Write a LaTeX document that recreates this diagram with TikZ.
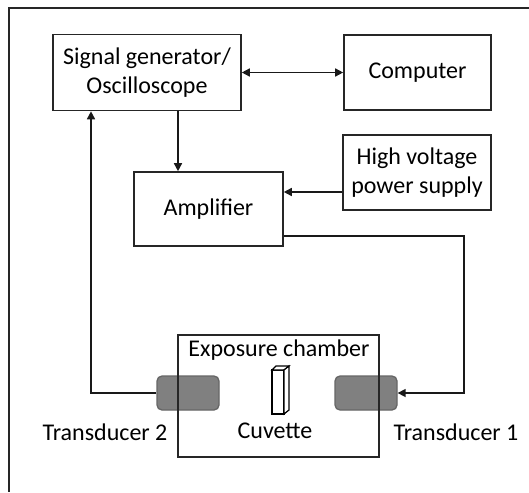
\documentclass[tikz,border=0pt]{standalone}
\usepackage{fontspec}
\setmainfont{Carlito}
\usetikzlibrary{arrows.meta}
\begin{document}
\begin{tikzpicture}[x=1pt,y=-1pt,
  box/.style={draw=black!85, line width=1.6pt, minimum width=#1, inner sep=0pt, align=center, font=\fontsize{24}{29.5}\selectfont},
  txt/.style={inner sep=0pt, font=\fontsize{24}{29}\selectfont},
  trans/.style={draw=black!60, fill=black!50, line width=1.3pt, rounded corners=5pt, minimum width=62pt, minimum height=34pt, inner sep=0pt},
  conn/.style={line width=1.5pt, draw=black!90},
  arr/.style={conn, -{Triangle[length=8pt,width=8pt]}},
  darr/.style={conn, {Triangle[length=8pt,width=8pt]}-{Triangle[length=8pt,width=8pt]}}]
\useasboundingbox (0,0) rectangle (529,492);
\fill[white] (0,0) rectangle (529,492);
% outer frame
\draw[line width=1.6pt, black!85] (529,8) -- (9,8) -- (9,492);
% boxes
\node[box=188pt, minimum height=76pt] (sig) at (147,72.5) {Signal generator/\\Oscilloscope};
\node[box=147pt, minimum height=75pt] (comp) at (417.5,72.5) {Computer};
\node[box=148pt, minimum height=75pt] (hv) at (417,172.5) {High voltage\\power supply};
\node[box=149pt, minimum height=74pt] (amp) at (208.5,209) {Amplifier};
% transducers
\node[trans] (t2) at (188,393) {};
\node[trans] (t1) at (366,393) {};
% chamber
\node[draw=black!85, line width=1.6pt, minimum width=201pt, minimum height=122pt, inner sep=0pt] (ch) at (278.5,396) {};
\node[txt] (chl) at (279,350) {Exposure chamber};
% cuvette
\draw[line width=1.2pt, fill=white] (272,370) -- (284,370) -- (284,414) -- (272,414) -- cycle;
\draw[line width=1.2pt, fill=white] (272,370) -- (276,366) -- (289,366) -- (284,370) -- cycle;
\draw[line width=1.2pt, fill=white] (284,370) -- (289,366) -- (289,410) -- (284,414) -- cycle;
\node[txt] (cuv) at (275,431) {Cuvette};
\node[txt] (t2l) at (105,432) {Transducer 2};
\node[txt] (t1l) at (456,432) {Transducer 1};
% connectors
\draw[darr] (sig.east) -- (comp.west);
\draw[arr] ([xshift=31pt]sig.south) -- ([xshift=31pt]sig.south |- amp.north);
\draw[arr] ([yshift=-19.5pt]hv.west) -- ([yshift=-19.5pt]hv.west -| amp.east);
\coordinate (turn) at ([yshift=-27pt,xshift=180pt]amp.east);
\draw[arr] ([yshift=-27pt]amp.east) -- (turn) |- (t1.east);
\draw[arr] (t2.west) -| ([xshift=-56pt]sig.south);
\end{tikzpicture}
\end{document}
